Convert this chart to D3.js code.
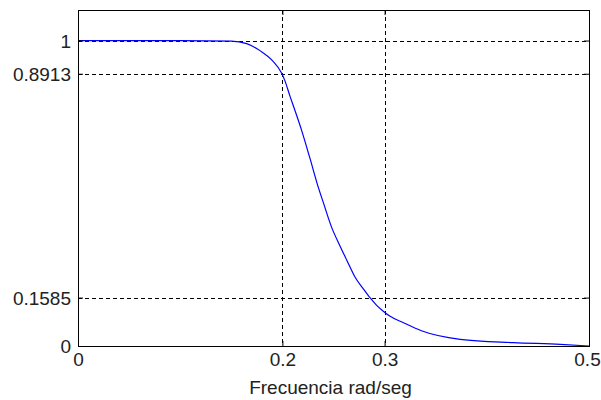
<!DOCTYPE html>
<html>
<head>
<meta charset="utf-8">
<script src="https://cdn.jsdelivr.net/npm/d3@7"></script>
<style>
  body { margin: 0; background: #fff; }
  text { font-family: "Liberation Sans", Arial, sans-serif; }
</style>
</head>
<body>
<svg width="601" height="400"></svg>
<script>
// values
const freq = [0, 0.05, 0.10, 0.15, 0.165, 0.178, 0.19, 0.1993, 0.2025, 0.2074, 0.2123, 0.2188,
  0.227, 0.235, 0.240, 0.248, 0.256, 0.263, 0.271, 0.279, 0.2857, 0.292, 0.2987, 0.305,
  0.318, 0.336, 0.374, 0.426, 0.472, 0.5];
const mag = [1, 1, 1, 0.998, 0.99, 0.967, 0.935, 0.893, 0.868, 0.818, 0.771, 0.706,
  0.614, 0.521, 0.47, 0.39, 0.33, 0.281, 0.226, 0.188, 0.158, 0.134, 0.114, 0.098,
  0.077, 0.05, 0.022, 0.011, 0.0055, 0.0];
const xTicks = [0, 0.2, 0.3, 0.5];
const yTicks = [0, 0.1585, 0.8913, 1];
const xLabel = "Frecuencia rad/seg";

const svg = d3.select("svg");
const axL = 78, axR = 589, axT = 10, axB = 346;

const x = d3.scaleLinear().domain([0, 0.5]).range([axL, axR]);
const y = d3.scaleLinear().domain([0, 1.1]).range([axB, axT]);

// grid
const grid = svg.append("g")
  .attr("stroke", "#000")
  .attr("stroke-dasharray", "4,3")
  .attr("shape-rendering", "crispEdges");
grid.selectAll(".gx")
  .data(xTicks.filter(d => d > 0 && d < 0.5))
  .enter().append("line")
  .attr("x1", d => Math.round(x(d)) + 0.5).attr("x2", d => Math.round(x(d)) + 0.5)
  .attr("y1", axT).attr("y2", axB);
grid.selectAll(".gy")
  .data(yTicks.filter(d => d > 0))
  .enter().append("line")
  .attr("y1", d => Math.round(y(d)) + 0.5).attr("y2", d => Math.round(y(d)) + 0.5)
  .attr("x1", axL).attr("x2", axR);

// curve
svg.append("path")
  .datum(freq.map((f, i) => [f, mag[i]]))
  .attr("fill", "none")
  .attr("stroke", "#0000ff")
  .attr("stroke-width", 1.2)
  .attr("d", d3.line()
    .x(d => x(d[0]))
    .y(d => y(d[1]))
    .curve(d3.curveMonotoneX));

// axes, ticks inward like matlab
const fmt = d => d3.format("")(d);
const xAxis = svg.append("g")
  .attr("transform", `translate(0,${axB})`)
  .call(d3.axisBottom(x).tickValues(xTicks).tickSizeInner(-5).tickSizeOuter(0).tickPadding(12).tickFormat(fmt));
svg.append("g")
  .attr("transform", `translate(0,${axT})`)
  .call(d3.axisTop(x).tickValues(xTicks).tickSizeInner(-5).tickSizeOuter(0).tickFormat(""));
const yAxis = svg.append("g")
  .attr("transform", `translate(${axL},0)`)
  .call(d3.axisLeft(y).tickValues(yTicks).tickSizeInner(-5).tickSizeOuter(0).tickPadding(12).tickFormat(fmt));
svg.append("g")
  .attr("transform", `translate(${axR},0)`)
  .call(d3.axisRight(y).tickValues(yTicks).tickSizeInner(-5).tickSizeOuter(0).tickFormat(""));

svg.selectAll(".domain").remove();
svg.selectAll(".tick line").attr("stroke", "#000");
svg.selectAll(".tick text")
  .attr("fill", "#222")
  .style("font-size", "19px")
  .style("font-family", "'Liberation Sans', Arial, sans-serif");
yAxis.selectAll(".tick text").attr("dx", "5").attr("dy", "0.36em");
xAxis.selectAll(".tick text").attr("dy", "0.71em").attr("y", 7);
// keep the last label inside the page
xAxis.selectAll(".tick text").filter(d => d === 0.5).attr("dx", "-2");

// box
svg.append("rect")
  .attr("x", axL + 0.5).attr("y", axT + 0.5)
  .attr("width", axR - axL).attr("height", axB - axT)
  .attr("fill", "none")
  .attr("stroke", "#000");

svg.append("text")
  .attr("x", (axL + axR) / 2 - 3)
  .attr("y", 394)
  .attr("text-anchor", "middle")
  .attr("fill", "#222")
  .style("font-size", "19px")
  .text(xLabel);
</script>
</body>
</html>
